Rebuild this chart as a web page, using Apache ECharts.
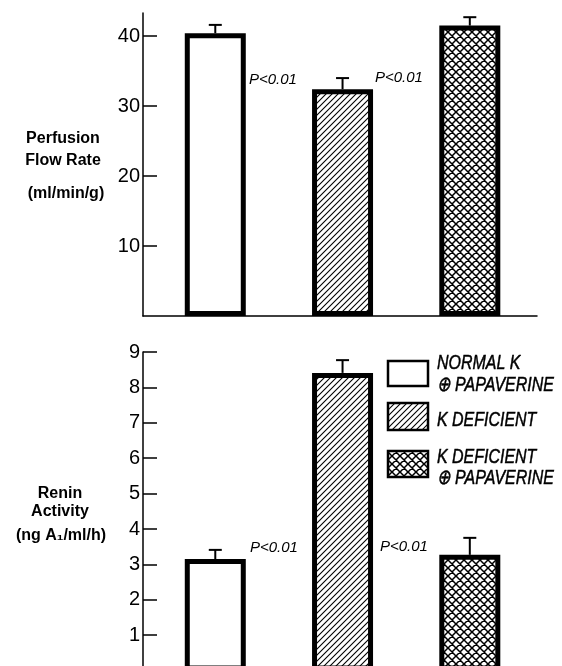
<!DOCTYPE html>
<html><head><meta charset="utf-8">
<script src="https://cdn.jsdelivr.net/npm/echarts@6/dist/echarts.min.js"></script>
<style>html,body{margin:0;padding:0;background:#fff}#c{width:562px;height:666px}</style>
</head><body><div id="c"></div>
<script>
const groups = ['Normal K + Papaverine', 'K Deficient', 'K Deficient + Papaverine'];
const flowMean = [40.4, 32.4, 41.5];
const flowSem = [1.2, 1.6, 1.2];
const reninMean = [3.15, 8.41, 3.27];
const reninSem = [0.26, 0.36, 0.48];
const flowTicks = [10, 20, 30, 40];
const reninTicks = [1, 2, 3, 4, 5, 6, 7, 8, 9];
const pLabel = 'P<0.01';
const flowTitle = ['Perfusion', 'Flow Rate', '(ml/min/g)'];
const reninTitle = ['Renin', 'Activity', '(ng A₁/ml/h)'];
const legendLines = [['NORMAL K', '⊕ PAPAVERINE'], ['K DEFICIENT'], ['K DEFICIENT', '⊕ PAPAVERINE']];

function makePattern(kind) {
  const s = kind === 'hatch' ? 6 : 8;
  const c = document.createElement('canvas'); c.width = s; c.height = s;
  const g = c.getContext('2d');
  g.fillStyle = '#fff'; g.fillRect(0, 0, s, s);
  g.strokeStyle = '#000'; g.lineWidth = kind === 'hatch' ? 1.1 : 1.5;
  g.beginPath();
  g.moveTo(-1, s + 1); g.lineTo(s + 1, -1);
  g.moveTo(-1, 1); g.lineTo(1, -1);
  g.moveTo(s - 1, s + 1); g.lineTo(s + 1, s - 1);
  if (kind === 'cross') {
    g.moveTo(-1, -1); g.lineTo(s + 1, s + 1);
    g.moveTo(s - 1, -1); g.lineTo(s + 1, 1);
    g.moveTo(-1, s - 1); g.lineTo(1, s + 1);
  }
  g.stroke();
  return c;
}
const fills = ['#ffffff', { image: makePattern('hatch'), repeat: 'repeat' }, { image: makePattern('cross'), repeat: 'repeat' }];

const chart = echarts.init(document.getElementById('c'), null, { renderer: 'canvas' });
const axisColor = '#000';
const numFont = { color: '#000', fontSize: 20, fontFamily: '"Liberation Sans", Arial, sans-serif', fontWeight: 'normal', margin: 3 };

function barData(means) {
  return means.map((v, i) => ({ value: [i, v], name: groups[i], itemStyle: { color: fills[i] } }));
}
function errData(means, sems) {
  return means.map((v, i) => [i, v, v + sems[i]]);
}
function renderErr(params, api) {
  const x = api.value(0), m = api.value(1), u = api.value(2);
  const p0 = api.coord([x, m]), p1 = api.coord([x, u]);
  return {
    type: 'group', children: [
      { type: 'line', shape: { x1: p0[0], y1: p0[1], x2: p1[0], y2: p1[1] }, style: { stroke: '#000', lineWidth: 2 } },
      { type: 'line', shape: { x1: p1[0] - 6.5, y1: p1[1], x2: p1[0] + 6.5, y2: p1[1] }, style: { stroke: '#000', lineWidth: 2 } }
    ]
  };
}

const graphics = [];
function addTitle(lines, xs, ys) {
  lines.forEach((t, i) => graphics.push({
    type: 'text', x: xs[i], y: ys[i],
    style: { text: t, font: 'bold 16px "Liberation Sans", Arial, sans-serif', fill: '#000', align: 'center', verticalAlign: 'middle' }
  }));
}
addTitle(flowTitle, [63, 63, 66], [139, 161, 194]);
addTitle(reninTitle, [60, 60, 61], [494, 512, 536]);
[[249, 80], [375, 78], [250, 548], [380, 547]].forEach(p => graphics.push({
  type: 'text', x: p[0], y: p[1],
  style: { text: pLabel, font: 'italic 15px "Liberation Sans", Arial, sans-serif', fill: '#000', align: 'left', verticalAlign: 'middle' }
}));
const legBoxes = [[388, 361, 40, 25], [388, 403, 40, 27], [388, 451, 40, 26]];
const legTextY = [[363.5, 385], [420], [457.5, 478]];
legBoxes.forEach((b, i) => {
  graphics.push({ type: 'rect', shape: { x: b[0], y: b[1], width: b[2], height: b[3] }, style: { fill: fills[i], stroke: '#000', lineWidth: 2.5 } });
  legendLines[i].forEach((t, j) => graphics.push({
    type: 'text', x: 437, y: legTextY[i][j], scaleX: 0.76,
    style: { text: t, font: 'italic 21px "Liberation Sans", Arial, sans-serif', fill: '#000', stroke: '#000', lineWidth: 0.5, align: 'left', verticalAlign: 'middle' }
  }));
});

chart.setOption({
  animation: false,
  backgroundColor: '#fff',
  grid: [
    { left: 143, top: 13, width: 394, height: 303, outerBoundsMode: 'none', containLabel: false },
    { left: 143, top: 352, width: 394, height: 318.6, outerBoundsMode: 'none', containLabel: false }
  ],
  xAxis: [
    { gridIndex: 0, type: 'value', min: -0.568, max: 2.528, axisLine: { show: true, onZero: false, lineStyle: { color: axisColor, width: 1.5 } }, axisTick: { show: false }, axisLabel: { show: false }, splitLine: { show: false } },
    { gridIndex: 1, type: 'value', min: -0.568, max: 2.528, show: false, axisLine: { onZero: false }, splitLine: { show: false } }
  ],
  yAxis: [
    { gridIndex: 0, type: 'value', min: 0, max: 43.3, interval: 10,
      axisLine: { show: true, onZero: false, lineStyle: { color: axisColor, width: 1.5 } },
      axisTick: { show: true, inside: true, length: 14, customValues: flowTicks, lineStyle: { color: axisColor, width: 1.5 } },
      axisLabel: Object.assign({ customValues: flowTicks }, numFont), splitLine: { show: false } },
    { gridIndex: 1, type: 'value', min: 0, max: 9, interval: 1,
      axisLine: { show: true, onZero: false, lineStyle: { color: axisColor, width: 1.5 } },
      axisTick: { show: true, inside: true, length: 14, customValues: reninTicks, lineStyle: { color: axisColor, width: 1.5 } },
      axisLabel: Object.assign({ customValues: reninTicks }, numFont), splitLine: { show: false } }
  ],
  series: [
    { type: 'custom', xAxisIndex: 0, yAxisIndex: 0, z: 1, renderItem: renderErr, data: errData(flowMean, flowSem), encode: { x: 0, y: [1, 2] } },
    { type: 'custom', xAxisIndex: 1, yAxisIndex: 1, z: 1, renderItem: renderErr, data: errData(reninMean, reninSem), encode: { x: 0, y: [1, 2] } },
    { type: 'bar', xAxisIndex: 0, yAxisIndex: 0, z: 2, barWidth: 61, data: barData(flowMean), itemStyle: { borderColor: '#000', borderWidth: 5 } },
    { type: 'bar', xAxisIndex: 1, yAxisIndex: 1, z: 2, barWidth: 61, data: barData(reninMean), itemStyle: { borderColor: '#000', borderWidth: 5 } }
  ],
  graphic: graphics
});
</script>
</body></html>
